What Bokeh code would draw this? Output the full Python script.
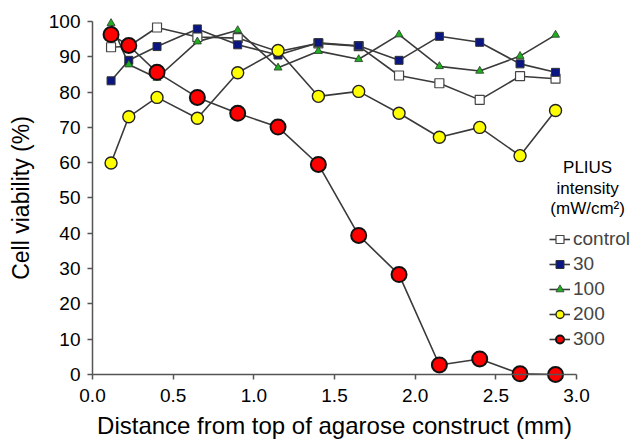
from bokeh.plotting import figure
from bokeh.models import Range1d, Legend, LegendItem, Label, FixedTicker, PrintfTickFormatter
from bokeh.embed import file_html
from bokeh.resources import INLINE

# Distance from top of agarose construct (mm)
distance = [0.115, 0.225, 0.40, 0.65, 0.90, 1.15, 1.40, 1.65, 1.90, 2.15, 2.40, 2.65, 2.87]
# Cell viability (%) per PLIUS intensity
control = [92.7, 93.0, 98.3, 95.6, 95.3, 91.5, 93.8, 93.0, 84.7, 82.5, 77.8, 84.5, 83.8]
i30 = [83.2, 89.0, 92.9, 97.9, 93.4, 90.5, 94.0, 93.1, 89.0, 95.8, 94.1, 88.0, 85.6]
i100 = [99.5, 87.8, 84.0, 94.3, 97.5, 86.9, 91.6, 89.3, 96.3, 87.3, 86.0, 90.2, 96.2]
i200 = [59.9, 73.0, 78.5, 72.6, 85.5, 91.8, 78.8, 80.2, 74.0, 67.2, 70.0, 62.0, 74.8]
i300 = [96.3, 93.2, 85.6, 78.5, 74.0, 70.1, 59.5, 39.4, 28.3, 2.7, 4.4, 0.2, 0.0]

series_labels = ["control", "30", "100", "200", "300"]
x_ticks = [0.0, 0.5, 1.0, 1.5, 2.0, 2.5, 3.0]
y_ticks = [0, 10, 20, 30, 40, 50, 60, 70, 80, 90, 100]

FONT = "Liberation Sans"

p = figure(width=642, height=440, x_range=Range1d(-0.5702, 3.409), y_range=Range1d(-18.697, 101.983),
           output_backend="svg", toolbar_location=None,
           min_border_left=0, min_border_right=0, min_border_top=14, min_border_bottom=0)
p.outline_line_color = None
p.xgrid.visible = False
p.ygrid.visible = False
p.background_fill_color = "white"

for ax in (p.xaxis, p.yaxis):
    ax.axis_line_color = "#555555"
    ax.axis_line_width = 1.5
    ax.major_tick_line_color = "#555555"
    ax.major_tick_line_width = 1.5
    ax.major_tick_out = 5
    ax.major_tick_in = 0
    ax.minor_tick_line_color = None
    ax.major_label_text_font = FONT
    ax.major_label_text_font_size = "19px"
    ax.major_label_text_color = "black"
    ax.axis_label_text_font = FONT
    ax.axis_label_text_font_style = "normal"
    ax.axis_label_text_color = "black"

p.xaxis.ticker = FixedTicker(ticks=x_ticks)
p.xaxis.formatter = PrintfTickFormatter(format="%.1f")
p.xaxis.bounds = (0, 3)
p.xaxis.fixed_location = 0
p.xaxis.major_label_standoff = 10
p.xaxis.axis_label_standoff = 6
p.xaxis.axis_label_text_font_size = "24px"
p.xaxis.axis_label = "Distance from top of agarose construct (mm)"

p.yaxis.ticker = FixedTicker(ticks=y_ticks)
p.yaxis.bounds = (0, 100)
p.yaxis.fixed_location = 0
p.yaxis.major_label_standoff = 7
p.yaxis.axis_label_standoff = 12
p.yaxis.axis_label_text_font_size = "23px"
p.yaxis.axis_label = "Cell viability (%)"

LINE = "#3a3a3a"
values = [control, i30, i100, i200, i300]
lines = []
for v in values:
    lines.append(p.line(distance, v, line_color=LINE, line_width=1.6))

styles = [
    dict(marker="square", size=9, fill_color="white", line_color="#444444", line_width=1.2),
    dict(marker="square", size=8, fill_color="#0a1682", line_color="#333333", line_width=1.0),
    dict(marker="triangle", size=8, fill_color="#1fae1f", line_color="#2a3a2a", line_width=0.8),
    dict(marker="circle", size=12, fill_color="#ffff00", line_color="#222222", line_width=1.4),
    dict(marker="circle", size=15, fill_color="#ff0000", line_color="#111111", line_width=2.0),
]
marks = []
for v, st in zip(values, styles):
    marks.append(p.scatter(distance, v, **st))

items = [LegendItem(label=lab, renderers=[l, m]) for lab, l, m in zip(series_labels, lines, marks)]
legend = Legend(items=items, location=(549, 90), orientation="vertical")
legend.background_fill_alpha = 0
legend.border_line_alpha = 0
legend.padding = 0
legend.margin = 0
legend.spacing = 3
legend.glyph_width = 21
legend.glyph_height = 20
legend.label_height = 20
legend.label_standoff = 3
legend.label_text_font = FONT
legend.label_text_font_size = "19px"
p.add_layout(legend)

for txt, yy in [("PLIUS", 58.6), ("intensity", 52.7), ("(mW/cm²)", 47.0)]:
    p.add_layout(Label(x=3.069, y=yy, text=txt, text_align="center", text_baseline="middle",
                       text_font=FONT, text_font_size="17px", text_color="black"))

open("out.html", "w").write(file_html(p, INLINE))
